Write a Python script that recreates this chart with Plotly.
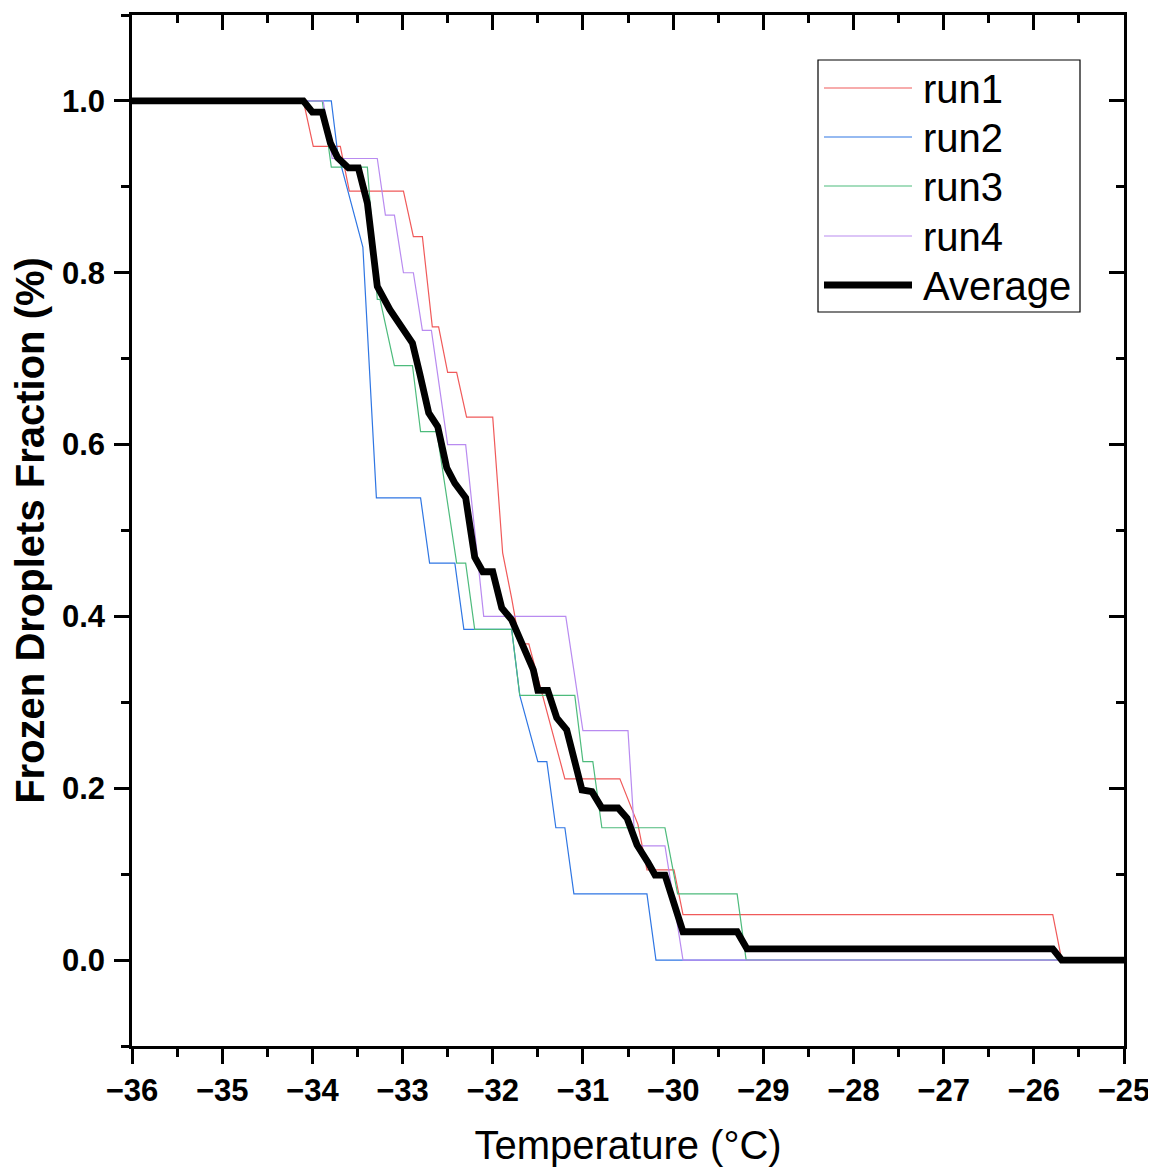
import plotly.graph_objects as go

# ---------------- data ----------------
series_names = ["run1", "run2", "run3", "run4", "Average"]

run1_x = [-36, -34.10, -33.99, -33.69, -33.59, -32.99, -32.88, -32.78, -32.67, -32.60, -32.50,
          -32.40, -32.29, -32.00, -31.89, -31.79, -31.70, -31.60, -31.20, -30.59, -30.39,
          -30.29, -29.99, -29.89, -25.79, -25.69, -25]
run1_y = [1.0, 1.0, 0.947, 0.947, 0.895, 0.895, 0.842, 0.842, 0.737, 0.737, 0.684,
          0.684, 0.632, 0.632, 0.474, 0.421, 0.368, 0.368, 0.211, 0.211, 0.158,
          0.105, 0.105, 0.053, 0.053, 0.0, 0.0]

run2_x = [-36, -33.79, -33.72, -33.44, -33.29, -32.80, -32.70, -32.42, -32.32, -31.79, -31.70,
          -31.50, -31.40, -31.30, -31.20, -31.10, -30.29, -30.19, -25]
run2_y = [1.0, 1.0, 0.940, 0.830, 0.538, 0.538, 0.462, 0.462, 0.385, 0.385, 0.308,
          0.231, 0.231, 0.154, 0.154, 0.077, 0.077, 0.0, 0.0]

run3_x = [-36, -33.89, -33.79, -33.39, -33.28, -33.25, -33.09, -32.89, -32.80, -32.62, -32.40,
          -32.30, -32.20, -31.79, -31.70, -31.09, -31.00, -30.89, -30.79, -30.09, -29.95,
          -29.29, -29.19, -25]
run3_y = [1.0, 1.0, 0.923, 0.923, 0.769, 0.769, 0.692, 0.692, 0.615, 0.615, 0.462,
          0.462, 0.385, 0.385, 0.308, 0.308, 0.231, 0.231, 0.154, 0.154, 0.077,
          0.077, 0.0, 0.0]

run4_x = [-36, -33.88, -33.78, -33.28, -33.19, -33.09, -32.99, -32.88, -32.78, -32.68, -32.50,
          -32.30, -32.10, -31.19, -31.00, -30.50, -30.42, -30.09, -29.89, -25]
run4_y = [1.0, 1.0, 0.933, 0.933, 0.867, 0.867, 0.800, 0.800, 0.733, 0.733, 0.600,
          0.600, 0.400, 0.400, 0.267, 0.267, 0.133, 0.133, 0.0, 0.0]

avg_x = [-36, -34.10, -34.00, -33.89, -33.80, -33.72, -33.60, -33.49, -33.39, -33.28, -33.14,
         -33.03, -32.89, -32.81, -32.71, -32.61, -32.51, -32.42, -32.30, -32.20, -32.11,
         -32.00, -31.90, -31.79, -31.68, -31.55, -31.50, -31.39, -31.29, -31.18, -31.01,
         -30.90, -30.79, -30.61, -30.51, -30.40, -30.28, -30.20, -30.09, -29.89, -29.29,
         -29.18, -25.79, -25.69, -25]
avg_y = [1.0, 1.0, 0.987, 0.987, 0.951, 0.934, 0.922, 0.922, 0.881, 0.784, 0.757,
         0.739, 0.718, 0.683, 0.637, 0.621, 0.573, 0.555, 0.538, 0.469, 0.452,
         0.452, 0.410, 0.396, 0.369, 0.338, 0.314, 0.314, 0.282, 0.268, 0.198,
         0.196, 0.177, 0.177, 0.165, 0.134, 0.114, 0.099, 0.099, 0.033, 0.033,
         0.013, 0.013, 0.0, 0.0]

x_ticks = [-36, -35, -34, -33, -32, -31, -30, -29, -28, -27, -26, -25]
y_ticks = [0.0, 0.2, 0.4, 0.6, 0.8, 1.0]

# ---------------- style ----------------
colors = ["#F05A5A", "#2F76E3", "#4DBB7C", "#B98BF0", "#000000"]
widths = [1.2, 1.2, 1.2, 1.2, 6.8]
xs = [run1_x, run2_x, run3_x, run4_x, avg_x]
ys = [run1_y, run2_y, run3_y, run4_y, avg_y]

FONT = "Liberation Sans, Arial, sans-serif"

fig = go.Figure()
for name, x, y, c, w in zip(series_names, xs, ys, colors, widths):
    fig.add_trace(go.Scatter(x=x, y=y, mode="lines", name=name,
                             line=dict(color=c, width=w, shape="linear"),
                             showlegend=False))

axis_common = dict(showline=True, linecolor="black", linewidth=2.5,
                   showgrid=False, zeroline=False, automargin=False)

# the page body adds an 8px margin, so the figure is 8px smaller and shifted
fig.update_layout(
    width=1148, height=1159,
    margin=dict(l=124, r=32, t=7, b=121),
    paper_bgcolor="white", plot_bgcolor="white",
    showlegend=False,
    xaxis=dict(range=[-36, -25], tickvals=x_ticks, ticks="outside", ticklen=15,
               tickwidth=2.5, tickcolor="black",
               minor=dict(dtick=0.5, tick0=-36, ticks="outside", ticklen=8,
                          tickwidth=2.5, tickcolor="black"),
               tickfont=dict(family=FONT, size=31, color="black", weight="bold"),
               title=dict(text="Temperature (°C)", standoff=25,
                          font=dict(family=FONT, size=40, color="black")),
               **axis_common),
    yaxis=dict(range=[-0.1, 1.1], tickvals=y_ticks, tickformat=".1f", ticks="outside",
               ticklen=15, tickwidth=2.5, tickcolor="black", ticklabelstandoff=3,
               minor=dict(dtick=0.1, tick0=0, ticks="outside", ticklen=8,
                          tickwidth=2.5, tickcolor="black"),
               tickfont=dict(family=FONT, size=31, color="black", weight="bold"),
               title=dict(text="Frozen Droplets Fraction (%)", standoff=10,
                          font=dict(family=FONT, size=40, color="black", weight="bold")),
               **axis_common),
    xaxis2=dict(range=[-36, -25], overlaying="x", side="top", anchor="y",
                tickvals=x_ticks, ticks="inside", ticklen=15, tickwidth=2.5,
                tickcolor="black", showticklabels=False,
                minor=dict(dtick=0.5, tick0=-36, ticks="inside", ticklen=8,
                           tickwidth=2.5, tickcolor="black"),
                **axis_common),
    yaxis2=dict(range=[-0.1, 1.1], overlaying="y", side="right", anchor="x",
                tickvals=y_ticks, ticks="inside", ticklen=15, tickwidth=2.5,
                tickcolor="black", showticklabels=False,
                minor=dict(dtick=0.1, tick0=0, ticks="inside", ticklen=8,
                           tickwidth=2.5, tickcolor="black"),
                **axis_common),
)

# anchor the mirrored axes with an empty trace
fig.add_trace(go.Scatter(x=[], y=[], xaxis="x2", yaxis="y2", showlegend=False,
                         hoverinfo="skip"))

# ---------------- legend (drawn manually to match long sample lines) ----------------
W, H = 992.0, 1031.0
def px_x(p):
    return (p - 132) / W
def px_y(p):
    return (1046 - p) / H

fig.add_shape(type="rect", xref="paper", yref="paper",
              x0=px_x(818), x1=px_x(1080), y0=px_y(312), y1=px_y(60),
              line=dict(color="black", width=1.2), fillcolor="white", layer="above")
row_y = [88, 137, 186, 236, 285]
for name, c, w, ry in zip(series_names, colors, widths, row_y):
    fig.add_shape(type="line", xref="paper", yref="paper",
                  x0=px_x(824), x1=px_x(912), y0=px_y(ry), y1=px_y(ry),
                  line=dict(color=c, width=w), layer="above")
    fig.add_annotation(xref="paper", yref="paper", x=px_x(921), y=px_y(ry + 1),
                       xanchor="left", yanchor="middle", showarrow=False,
                       text=name, font=dict(family=FONT, size=40, color="black"))

fig.write_html("out.html")
